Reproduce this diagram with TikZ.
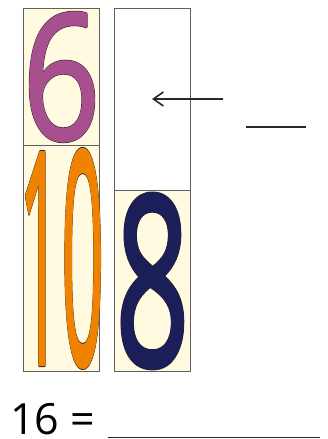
\documentclass[tikz,border=0pt]{standalone}
\usepackage{fontspec}
\setmainfont{Open Sans}
\usepackage{graphicx}
\usetikzlibrary{arrows.meta}

\definecolor{cream}{RGB}{255,250,224}
\definecolor{cellgray}{RGB}{95,95,95}
\definecolor{sixpurple}{RGB}{168,79,143}
\definecolor{tenorange}{RGB}{240,130,0}
\definecolor{eightnavy}{RGB}{28,30,90}
\definecolor{inkgray}{RGB}{40,40,40}

% digit made heavier: dark outer stroke, then fill colour stroked over it
\newcommand{\fatdigit}[4]{\rlap{\special{pdf:literal direct 1 j 0.15 0.15 0.15 RG 1 Tr #2 w}#4}{\color{#1}\special{pdf:literal direct 1 j 2 Tr #3 w}#4}\special{pdf:literal direct 0 Tr}}

\begin{document}
\begin{tikzpicture}[
  x=1pt,y=1pt,
  cell/.style={draw=cellgray, line width=0.9pt, fill=cream, minimum width=76pt, inner sep=0pt, anchor=north west},
  blankcell/.style={cell, fill=white},
  digit/.style={inner sep=0pt, font=\fontsize{200}{200}\selectfont},
  arr/.style={-{Straight Barb[length=10pt,width=14pt,line width=1.6pt]}, line width=1.2pt, draw=inkgray},
  answer/.style={line width=1.4pt, draw=inkgray}
]
\useasboundingbox (0,0) rectangle (327,-439);
\node[cell, minimum height=137pt] (sixcell) at (23,-8) {};
\node[cell, minimum height=226pt] (tencell) at (23,-145) {};
\node[blankcell, minimum height=182pt] (blankcell) at (114,-8) {};
\node[cell, minimum height=181pt] (eightcell) at (114,-190) {};
\node[digit] (six) at (sixcell.center) {\resizebox{78pt}{127pt}{\fatdigit{sixpurple}{4.2}{3}{6}}};
\node[digit] (ten) at (tencell.center) {\resizebox{85pt}{214pt}{\fatdigit{tenorange}{4.2}{3}{10}}};
\node[digit] (eight) at (eightcell.center) {\resizebox{74pt}{171pt}{\fatdigit{eightnavy}{4.7}{3.5}{8}}};
\coordinate (arrowstart) at (223,-99);
\coordinate (arrowtip) at (152,-99);
\draw[arr] (arrowstart) -- (arrowtip);
\draw[answer] (246,-127) -- (306,-127);
\node[anchor=base west, inner sep=0pt, font=\fontsize{43}{43}\selectfont, text=black] (sum) at (10,-434) {16 =};
\draw[answer] (108,-437.5) -- (320,-437.5);
\end{tikzpicture}
\end{document}
